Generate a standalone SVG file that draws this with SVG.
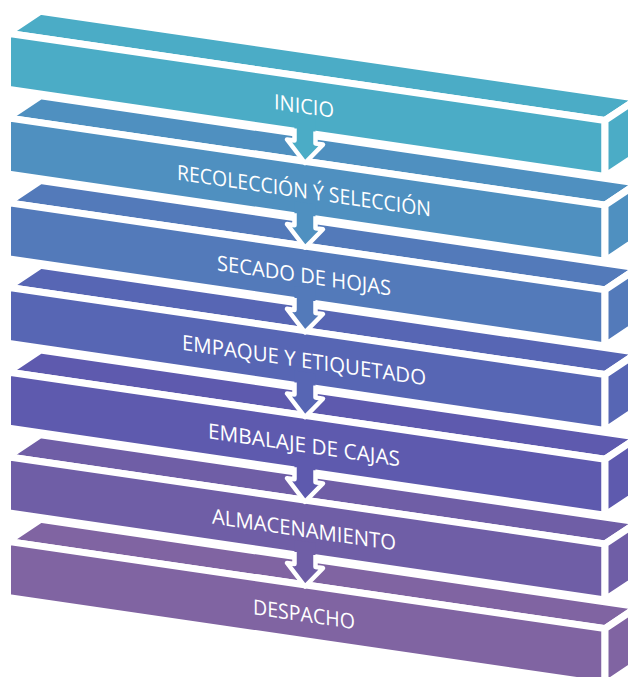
<svg xmlns="http://www.w3.org/2000/svg" xmlns:xlink="http://www.w3.org/1999/xlink" width="628" height="677" viewBox="0 0 628 677">
  <style>
    .face { stroke: #ffffff; stroke-width: 7; stroke-linejoin: miter; }
    .lbl { fill: #ffffff; font-family: "Open Sans", "Liberation Sans", sans-serif; font-size: 21px; text-anchor: middle; }
    .rim { fill: none; stroke: #ffffff; stroke-width: 4.5; stroke-linejoin: round; stroke-linecap: butt; }
  </style>
  <defs>
    <!-- one skewed 3D bar: top face, front face, right side face -->
    <g id="box">
      <polygon class="face" points="7.5,33.2 605,120.44 638,98.44 40.5,11.2"/>
      <polygon class="face" points="7.5,33.2 605,120.44 605,176.44 7.5,89.2"/>
      <polygon class="face" points="605,120.44 638,98.44 638,154.44 605,176.44"/>
    </g>
    <!-- down arrow hanging from a bar onto the next one -->
    <g id="arrow">
      <polygon points="294.5,116.5 294.5,140.5 287,139.4 305,163 323,144.6 315.5,143.5 315.5,119.5"/>
      <polyline class="rim" points="294.5,128.5 294.5,140.5 287,139.4 305,163 323,144.6 315.5,143.5 315.5,131.5"/>
    </g>
  </defs>
  <rect width="628" height="677" fill="#ffffff"/>

  <g id="inicio" fill="#4BACC6">
    <use xlink:href="#box" href="#box"/>
    <text class="lbl" transform="translate(304,113.5) skewY(8.3)" textLength="60" lengthAdjust="spacingAndGlyphs">INICIO</text>
  </g>
  <g id="recoleccion" fill="#4F90C0" transform="translate(0,84.7)">
    <use xlink:href="#box" href="#box"/>
    <text class="lbl" transform="translate(304,113.5) skewY(8.3)" textLength="254" lengthAdjust="spacingAndGlyphs">RECOLECCIÓN Ý SELECCIÓN</text>
  </g>
  <g id="secado" fill="#537ABA" transform="translate(0,169.4)">
    <use xlink:href="#box" href="#box"/>
    <text class="lbl" transform="translate(304,113.5) skewY(8.3)" textLength="174" lengthAdjust="spacingAndGlyphs">SECADO DE HOJAS</text>
  </g>
  <g id="empaque" fill="#5766B4" transform="translate(0,254.1)">
    <use xlink:href="#box" href="#box"/>
    <text class="lbl" transform="translate(304,113.5) skewY(8.3)" textLength="244" lengthAdjust="spacingAndGlyphs">EMPAQUE Y ETIQUETADO</text>
  </g>
  <g id="embalaje" fill="#5E5AAE" transform="translate(0,338.8)">
    <use xlink:href="#box" href="#box"/>
    <text class="lbl" transform="translate(304,113.5) skewY(8.3)" textLength="192" lengthAdjust="spacingAndGlyphs">EMBALAJE DE CAJAS</text>
  </g>
  <g id="almacenamiento" fill="#6F5EA6" transform="translate(0,423.5)">
    <use xlink:href="#box" href="#box"/>
    <text class="lbl" transform="translate(304,113.5) skewY(8.3)" textLength="184" lengthAdjust="spacingAndGlyphs">ALMACENAMIENTO</text>
  </g>
  <g id="despacho" fill="#8064A2" transform="translate(0,508.2)">
    <use xlink:href="#box" href="#box"/>
    <text class="lbl" transform="translate(304,113.5) skewY(8.3)" textLength="102" lengthAdjust="spacingAndGlyphs">DESPACHO</text>
  </g>

  <g id="connectors">
    <use xlink:href="#arrow" href="#arrow" fill="#4BACC6"/>
    <use xlink:href="#arrow" href="#arrow" fill="#4F90C0" transform="translate(0,84.7)"/>
    <use xlink:href="#arrow" href="#arrow" fill="#537ABA" transform="translate(0,169.4)"/>
    <use xlink:href="#arrow" href="#arrow" fill="#5766B4" transform="translate(0,254.1)"/>
    <use xlink:href="#arrow" href="#arrow" fill="#5E5AAE" transform="translate(0,338.8)"/>
    <use xlink:href="#arrow" href="#arrow" fill="#6F5EA6" transform="translate(0,423.5)"/>
  </g>
</svg>
